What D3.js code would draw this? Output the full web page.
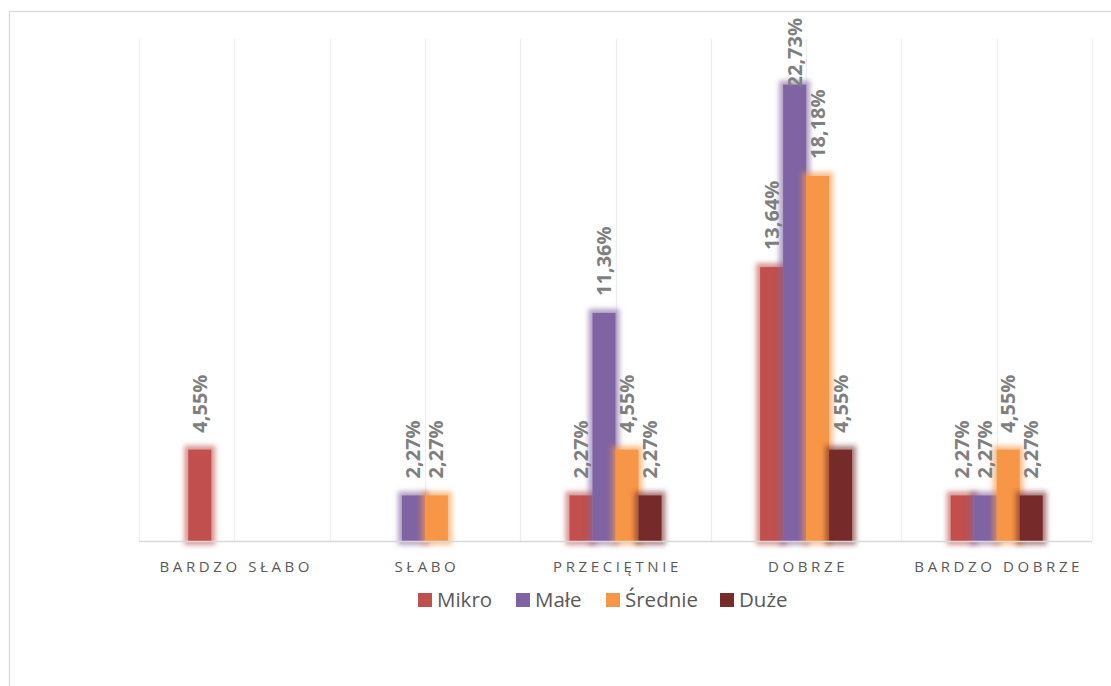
<!DOCTYPE html>
<html>
<head>
<meta charset="utf-8">
<script src="https://cdn.jsdelivr.net/npm/d3@7"></script>
<style>
  body { margin: 0; background: #fff; }
  svg { display: block; }
</style>
</head>
<body>
<div id="chart"></div>
<script>
// categories and series
var categories = ["BARDZO SŁABO", "SŁABO", "PRZECIĘTNIE", "DOBRZE", "BARDZO DOBRZE"];
var seriesNames = ["Mikro", "Małe", "Średnie", "Duże"];
var seriesColors = ["#c0504d", "#8064a2", "#f79646", "#772c2a"];

// values in %, one array per series (same order as categories)
var mikro   = [4.55, 0, 2.27, 13.64, 2.27];
var male    = [0, 2.27, 11.36, 22.73, 2.27];
var srednie = [0, 2.27, 4.55, 18.18, 4.55];
var duze    = [0, 0, 2.27, 4.55, 2.27];
var seriesValues = [mikro, male, srednie, duze];

var W = 1111, H = 686;
var plot = {left: 139, right: 1092, top: 39, bottom: 541};

var svg = d3.select("#chart").append("svg")
    .attr("width", W)
    .attr("height", H);

// glow filters, one per series
var defs = svg.append("defs");
seriesColors.forEach(function(c, i){
  var f = defs.append("filter")
      .attr("id", "glow" + i)
      .attr("x", "-60%").attr("y", "-60%")
      .attr("width", "220%").attr("height", "220%");
  f.append("feMorphology").attr("in", "SourceAlpha").attr("operator", "dilate")
      .attr("radius", 4).attr("result", "fat");
  f.append("feGaussianBlur").attr("in", "fat").attr("stdDeviation", 2.8).attr("result", "blur");
  f.append("feFlood").attr("flood-color", c).attr("flood-opacity", 0.6).attr("result", "col");
  f.append("feComposite").attr("in", "col").attr("in2", "blur").attr("operator", "in").attr("result", "glow");
  var m = f.append("feMerge");
  m.append("feMergeNode").attr("in", "glow");
  m.append("feMergeNode").attr("in", "SourceGraphic");
});

// chart area border
svg.append("rect")
    .attr("x", 9.5).attr("y", 11.5)
    .attr("width", 1120).attr("height", 700)
    .attr("fill", "none")
    .attr("stroke", "#d9d9d9")
    .attr("stroke-width", 1.3);

// scales
var x0 = d3.scaleBand().domain(categories).range([plot.left, plot.right]);
var bw = x0.bandwidth();
var groupW = 92;
var x1 = d3.scaleBand().domain(seriesNames).range([0, groupW]);
var y = d3.scaleLinear().domain([0, 25]).range([plot.bottom, plot.top]);

// vertical gridlines at category edges and midpoints
var gridX = [];
categories.forEach(function(c){
  gridX.push(x0(c));
  gridX.push(x0(c) + bw / 2);
});
gridX.push(plot.right);
svg.append("g").selectAll("line")
  .data(gridX)
  .enter().append("line")
    .attr("x1", function(d){ return Math.round(d) + 0.5; })
    .attr("x2", function(d){ return Math.round(d) + 0.5; })
    .attr("y1", plot.top)
    .attr("y2", plot.bottom)
    .attr("stroke", "#eeeeee")
    .attr("stroke-width", 1.3);

// bars
var barsG = svg.append("g");
var labelsG = svg.append("g");
seriesNames.forEach(function(s, i){
  var data = categories.map(function(c, k){ return {cat: c, v: seriesValues[i][k]}; })
    .filter(function(d){ return d.v > 0; });
  barsG.append("g")
      .attr("filter", "url(#glow" + i + ")")
    .selectAll("rect")
    .data(data)
    .enter().append("rect")
      .attr("x", function(d){ return x0(d.cat) + (bw - groupW) / 2 + x1(s); })
      .attr("y", function(d){ return y(d.v); })
      .attr("width", x1.bandwidth())
      .attr("height", function(d){ return plot.bottom - y(d.v); })
      .attr("fill", seriesColors[i]);

  // rotated value labels
  labelsG.selectAll(null)
    .data(data)
    .enter().append("text")
      .text(function(d){ return d.v.toFixed(2).replace(".", ",") + "%"; })
      .attr("font-family", "'Open Sans', sans-serif")
      .attr("font-weight", "bold")
      .attr("font-size", "20px")
      .attr("fill", "#7f7f7f")
      .attr("dy", "0.35em")
      .attr("transform", function(d){
        var cx = x0(d.cat) + (bw - groupW) / 2 + x1(s) + x1.bandwidth() / 2;
        var start = y(d.v) - 17;
        var len = this.getComputedTextLength();
        if (start - len < 18) start = 18 + len;
        return "translate(" + cx + "," + start + ") rotate(-90)";
      });
});

// baseline
svg.append("line")
    .attr("x1", plot.left).attr("x2", plot.right)
    .attr("y1", plot.bottom + 0.5).attr("y2", plot.bottom + 0.5)
    .attr("stroke", "#d9d9d9")
    .attr("stroke-width", 1.3);

// category labels
svg.append("g").selectAll("text")
  .data(categories)
  .enter().append("text")
    .attr("x", function(d){ return x0(d) + bw / 2 + 2; })
    .attr("y", 572)
    .attr("text-anchor", "middle")
    .attr("font-family", "'Open Sans', sans-serif")
    .attr("font-size", "15px")
    .attr("letter-spacing", "3.6px")
    .attr("fill", "#595959")
    .text(function(d){ return d; });

// legend
var legendX = [418, 516, 606, 720];
var legend = svg.append("g");
seriesNames.forEach(function(s, i){
  var g = legend.append("g").attr("transform", "translate(" + legendX[i] + ",593)");
  g.append("rect").attr("width", 14).attr("height", 14).attr("fill", seriesColors[i]);
  g.append("text")
      .attr("x", 19).attr("y", 14)
      .attr("font-family", "'Open Sans', sans-serif")
      .attr("font-size", "20.5px")
      .attr("fill", "#595959")
      .text(s);
});
</script>
</body>
</html>
